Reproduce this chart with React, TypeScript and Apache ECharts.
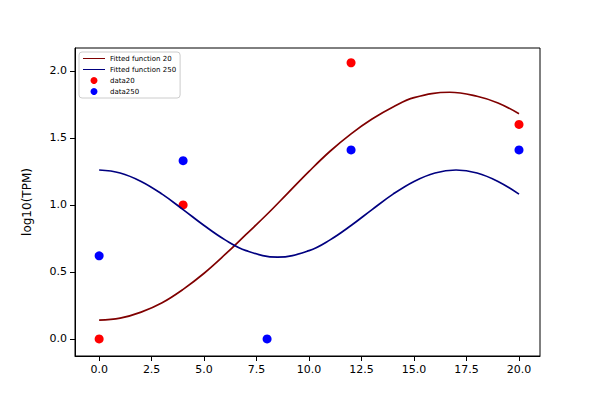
import React, { useEffect, useRef } from "react";
import * as echarts from "echarts";

const fit20X = [0, 1, 2, 3, 4, 5, 6, 7, 8, 9, 10, 11, 12, 13, 14, 15, 16.7, 18, 19, 20];
const fit20 = [0.14, 0.155, 0.2, 0.27, 0.37, 0.49, 0.63, 0.78, 0.93, 1.09, 1.25, 1.4, 1.53, 1.64, 1.73, 1.8, 1.84, 1.81, 1.76, 1.68];
const fit250X = [0, 1, 2, 3, 4, 5, 6, 7, 8.5, 10, 11, 12, 13, 14, 15, 16, 17, 18, 19, 20];
const fit250 = [1.26, 1.238, 1.175, 1.08, 0.965, 0.846, 0.739, 0.659, 0.61, 0.659, 0.739, 0.846, 0.965, 1.08, 1.175, 1.238, 1.26, 1.238, 1.175, 1.08];
const data20 = [[0, 0], [4, 1.0], [12, 2.06], [20, 1.6]];
const data250 = [[0, 0.62], [4, 1.33], [8, 0], [12, 1.41], [20, 1.41]];
const xTicks = [0, 2.5, 5, 7.5, 10, 12.5, 15, 17.5, 20];
const yTicks = [0, 0.5, 1, 1.5, 2];

const App: React.FC = () => {
  const ref = useRef<HTMLDivElement>(null);

  useEffect(() => {
    if (!ref.current) return;
    const chart = echarts.init(ref.current, undefined, { renderer: "svg" });
    const axisCommon = {
      axisLine: { show: true, onZero: false, lineStyle: { color: "#000" } },
      axisTick: { show: true, lineStyle: { color: "#000" } },
      splitLine: { show: false },
    };
    chart.setOption({
      animation: false,
      textStyle: { fontFamily: "DejaVu Sans" },
      grid: { left: 75, right: 60, top: 48, bottom: 44, show: true, borderColor: "#000", borderWidth: 1 },
      legend: {
        orient: "vertical",
        left: 79,
        top: 52,
        itemWidth: 22,
        itemHeight: 7,
        itemGap: 4,
        padding: [3, 4],
        borderColor: "#ccc",
        borderWidth: 1,
        borderRadius: 3,
        textStyle: { fontSize: 7, color: "#000" },
        data: [
          { name: "Fitted function 20", icon: "path://M0,4L22,4L22,5L0,5Z" },
          { name: "Fitted function 250", icon: "path://M0,4L22,4L22,5L0,5Z" },
          { name: "data20", icon: "circle" },
          { name: "data250", icon: "circle" },
        ],
      },
      xAxis: {
        type: "value",
        min: -1.15,
        max: 21.0,
        ...axisCommon,
        axisTick: { ...axisCommon.axisTick, customValues: xTicks },
        axisLabel: { customValues: xTicks, color: "#000", fontSize: 11, formatter: (v: number) => v.toFixed(1) },
      },
      yAxis: {
        type: "value",
        min: -0.127,
        max: 2.17,
        name: "log10(TPM)",
        nameLocation: "middle",
        nameGap: 42,
        nameTextStyle: { color: "#000", fontSize: 12 },
        ...axisCommon,
        axisTick: { ...axisCommon.axisTick, customValues: yTicks },
        axisLabel: { customValues: yTicks, color: "#000", fontSize: 11, formatter: (v: number) => v.toFixed(1) },
      },
      series: [
        {
          name: "Fitted function 20",
          type: "line",
          data: fit20X.map((x, i) => [x, fit20[i]]),
          smooth: 0.4,
          showSymbol: false,
          itemStyle: { color: "#800000" },
          lineStyle: { color: "#800000", width: 1.7 },
        },
        {
          name: "Fitted function 250",
          type: "line",
          data: fit250X.map((x, i) => [x, fit250[i]]),
          smooth: 0.4,
          showSymbol: false,
          itemStyle: { color: "#000080" },
          lineStyle: { color: "#000080", width: 1.7 },
        },
        { name: "data20", type: "scatter", data: data20, symbolSize: 9, itemStyle: { color: "#ff0000", opacity: 1 } },
        { name: "data250", type: "scatter", data: data250, symbolSize: 9, itemStyle: { color: "#0000ff", opacity: 1 } },
      ],
    });
    return () => chart.dispose();
  }, []);

  return <div ref={ref} style={{ position: "fixed", left: 0, top: 0, width: 600, height: 400, background: "#fff" }} />;
};

export default App;
